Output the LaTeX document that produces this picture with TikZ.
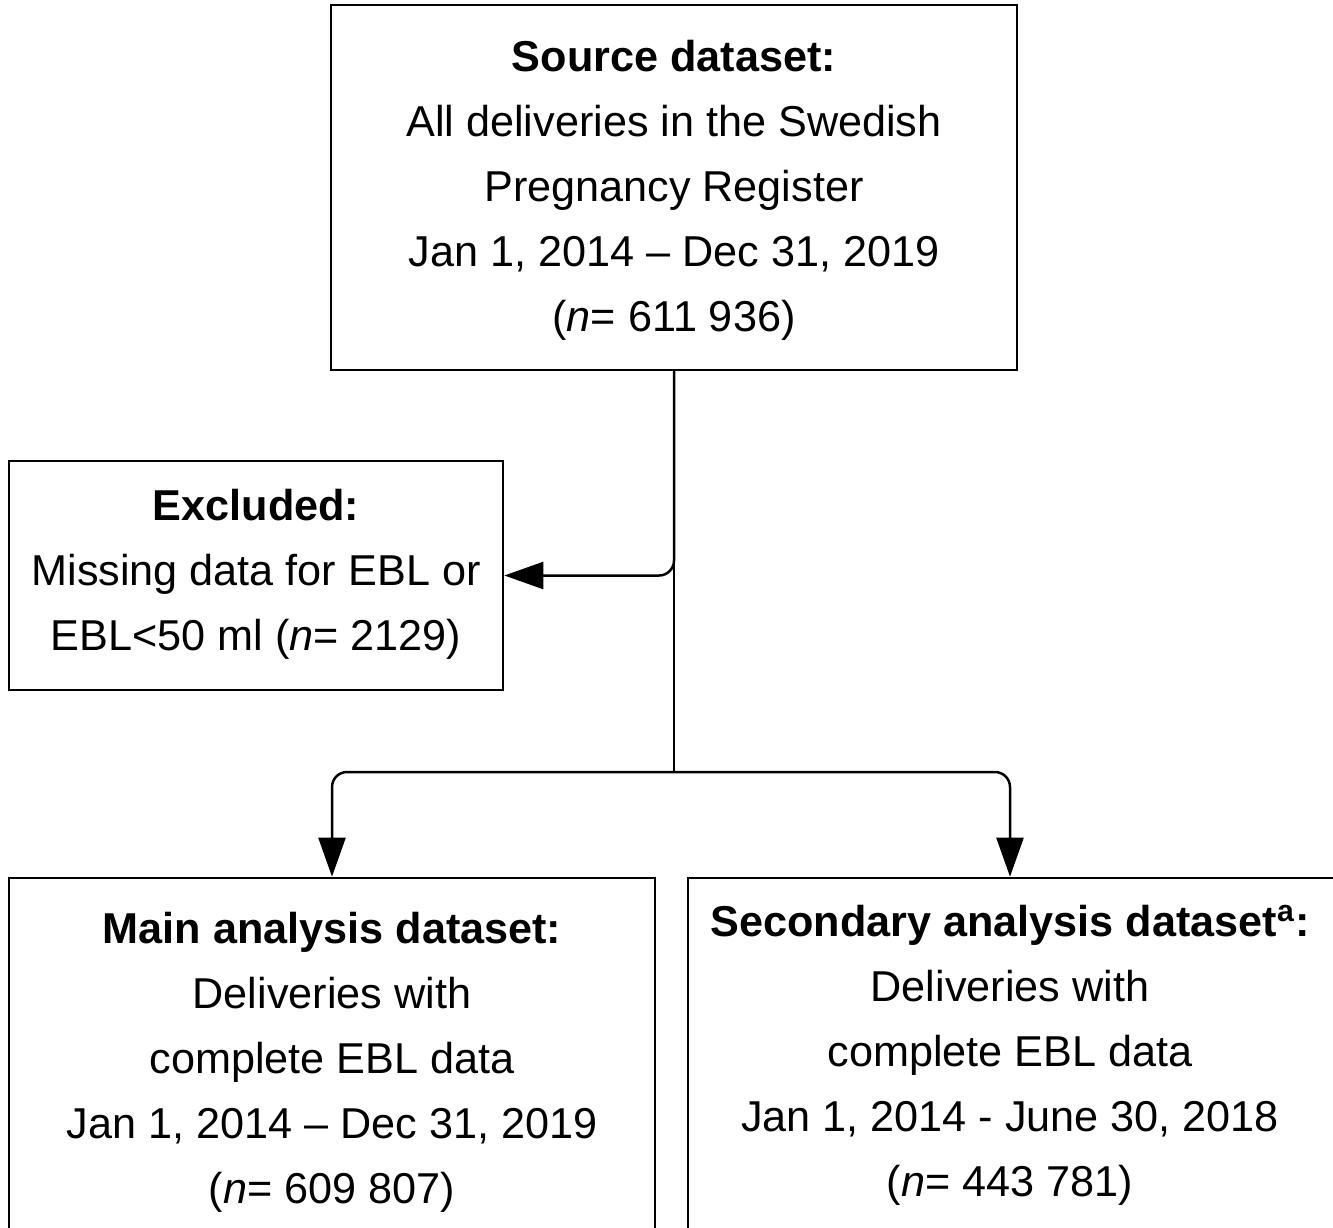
\documentclass[tikz,border=0pt]{standalone}
\usepackage{fontspec}
\setmainfont{Liberation Sans}
\usetikzlibrary{fit,arrows.meta}
\begin{document}
\begin{tikzpicture}[x=0.5pt,y=-0.5pt,
  box/.style={draw, line width=1.35pt, inner sep=0pt, rectangle},
  txt/.style={align=center, inner sep=0pt, font=\fontsize{21.6pt}{32.5pt}\selectfont},
  conn/.style={line width=1.25pt},
  arr/.style={conn, -{Triangle[length=19.5pt,width=13.5pt]}, rounded corners=7.5pt}]
\useasboundingbox (0,0) rectangle (1333,1227);
\clip (0,0) rectangle (1333,1227);
\fill[white] (0,0) rectangle (1333,1227);
% boxes
\node[box, fit={(331,5) (1017,370)}] (src) {};
\node[box, fit={(9,461) (503,690)}] (exc) {};
\node[box, fit={(9,878) (655,1245)}] (main) {};
\node[box, fit={(688,878) (1345,1245)}] (sec) {};
% texts
\node[txt] (srct) at (674,190) {\textbf{Source dataset:}\\All deliveries in the Swedish\\Pregnancy Register\\Jan 1, 2014 -- Dec 31, 2019\\(\textit{n}= 611 936)};
\node[txt] (exct) at (256,574) {\textbf{Excluded:}\\Missing data for EBL or\\EBL<50 ml (\textit{n}= 2129)};
\node[txt] (maint) at (332,1062) {\textbf{Main analysis dataset:}\\Deliveries with\\complete EBL data\\Jan 1, 2014 -- Dec 31, 2019\\(\textit{n}= 609 807)};
\node[txt] (sect) at (1010,1055) {\textbf{Secondary analysis dataset\textsuperscript{a}:}\\Deliveries with\\complete EBL data\\Jan 1, 2014 - June 30, 2018\\(\textit{n}= 443 781)};
% connectors
\coordinate (j) at (674,772);
\coordinate (secin) at (sec.north -| 1010,0);
\draw[conn] (src.south) -- (j);
\draw[arr] (src.south) |- (exc.east);
\draw[arr] (j) -| (main.north);
\draw[arr] (j) -| (secin);
\end{tikzpicture}
\end{document}
